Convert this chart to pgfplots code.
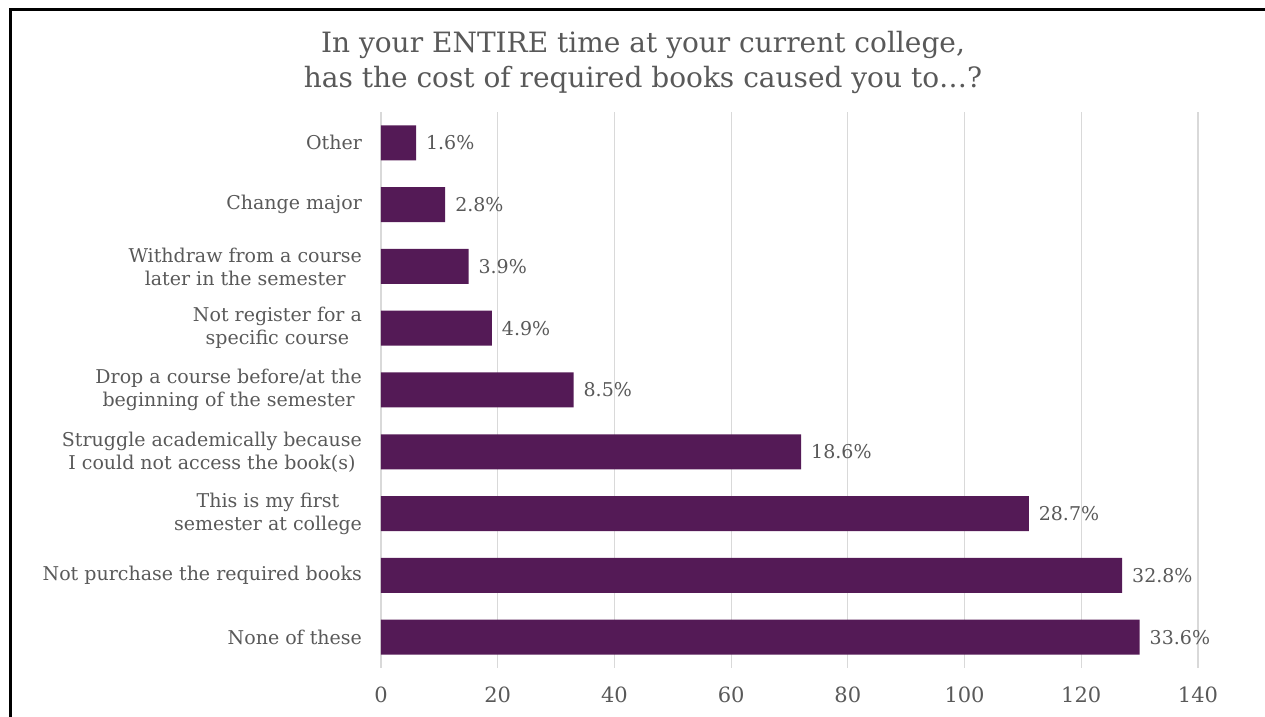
\documentclass[border=0pt]{standalone}
\usepackage{fontspec}
\setmainfont{DejaVu Serif}
\usepackage{pgfplots}
\pgfplotsset{compat=1.18}
\definecolor{barpurple}{HTML}{541A56}
\definecolor{txtgray}{HTML}{595959}
\definecolor{gridgray}{HTML}{D9D9D9}
\begin{document}
\begin{tikzpicture}
\useasboundingbox (0,0) rectangle (632.5pt,358.5pt);
\draw[line width=1.2pt, black] (5.25pt,0) -- (5.25pt,353.75pt) -- (632.5pt,353.75pt);
\node[align=center, text=txtgray, font=\fontsize{14}{17.5}\selectfont] at (321.5pt,327.5pt) {In your ENTIRE time at your current college,\\has the cost of required books caused you to\ldots?};
\begin{axis}[
 at={(190.5pt,24.5pt)}, anchor=south west,
 scale only axis, width=408.5pt, height=278pt,
 xbar, bar width=17.5pt,
 xmin=0, xmax=140, ymin=-0.5, ymax=8.5,
 xtick={0,20,...,140},
 ytick={0,...,8},
 yticklabels={None of these, Not purchase the required books, {This is my first\\semester at college}, {Struggle academically because\\I could not access the book(s)}, {Drop a course before/at the\\beginning of the semester}, {Not register for a\\specific course}, {Withdraw from a course\\later in the semester}, Change major, Other},
 axis line style={draw=none},
 major tick length=0pt,
 xmajorgrids, grid style={gridgray, line width=0.6pt},
 tick label style={text=txtgray},
 xticklabel style={font=\fontsize{10.5}{12}\selectfont, yshift=-6pt},
 yticklabel style={align=center, font=\fontsize{9.5}{11.5}\selectfont, xshift=-6pt},
 /pgf/number format/assume math mode=true,
 nodes near coords, point meta=explicit symbolic,
 nodes near coords style={text=txtgray, font=\fontsize{9.5}{11}\selectfont, anchor=west, xshift=1.5pt},
 clip=false,
]
\addplot[fill=barpurple, draw=none] coordinates {
 (130,0) [33.6\%]
 (127,1) [32.8\%]
 (111,2) [28.7\%]
 (72,3) [18.6\%]
 (33,4) [8.5\%]
 (19,5) [4.9\%]
 (15,6) [3.9\%]
 (11,7) [2.8\%]
 (6,8) [1.6\%]
};
\end{axis}
\end{tikzpicture}
\end{document}
